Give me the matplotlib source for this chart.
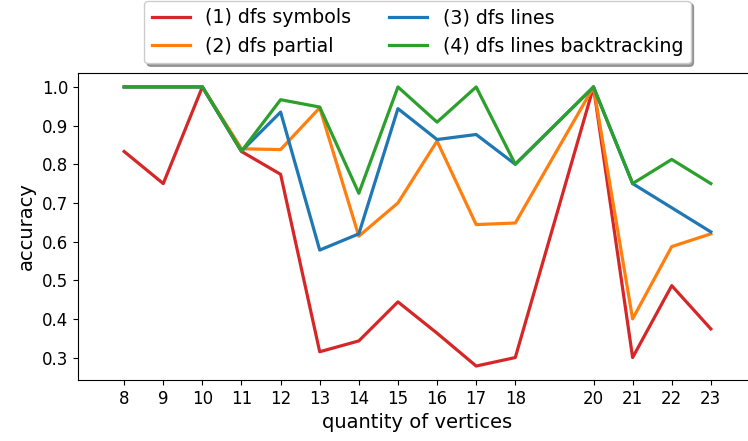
import matplotlib
matplotlib.use("Agg")
import matplotlib.pyplot as plt

vertices = [8, 9, 10, 11, 12, 13, 14, 15, 16, 17, 18, 20, 21, 22, 23]
dfs_symbols = [0.833, 0.75, 1.0, 0.833, 0.774, 0.315, 0.343, 0.444, 0.363, 0.278, 0.30, 1.0, 0.30, 0.486, 0.374]
dfs_partial = [1.0, 1.0, 1.0, 0.840, 0.838, 0.946, 0.614, 0.70, 0.86, 0.644, 0.648, 1.0, 0.40, 0.587, 0.62]
dfs_lines = [1.0, 1.0, 1.0, 0.834, 0.935, 0.578, 0.62, 0.944, 0.864, 0.877, 0.80, 1.0, 0.75, 0.6875, 0.625]
dfs_lines_bt = [1.0, 1.0, 1.0, 0.834, 0.967, 0.948, 0.725, 1.0, 0.909, 1.0, 0.80, 1.0, 0.75, 0.8125, 0.75]
labels = ["(1) dfs symbols", "(2) dfs partial", "(3) dfs lines", "(4) dfs lines backtracking"]

plt.rcParams['font.size'] = 12
fig = plt.figure(figsize=(7.48, 4.41), dpi=100)
W, H = 748, 441
ax = fig.add_axes([78 / W, 1 - 380 / H, (757 - 78) / W, (380 - 73) / H])

lw = 2.3
ax.plot(vertices, dfs_symbols, color="#d62728", lw=lw, label=labels[0])
ax.plot(vertices, dfs_partial, color="#ff7f0e", lw=lw, label=labels[1])
ax.plot(vertices, dfs_lines, color="#1f77b4", lw=lw, label=labels[2])
ax.plot(vertices, dfs_lines_bt, color="#2ca02c", lw=lw, label=labels[3])

ax.set_xticks(vertices)
ax.set_xlim(6.82, 24.18)
ax.tick_params(labelsize=12)
ax.set_xlabel("quantity of vertices", fontsize=14)
ax.set_ylabel("accuracy", fontsize=14)
ax.legend(loc="lower center", bbox_to_anchor=(0.5, 1.0), ncol=2, shadow=True,
          fancybox=True, fontsize=13.7)

fig.savefig("out.png", dpi=100)
